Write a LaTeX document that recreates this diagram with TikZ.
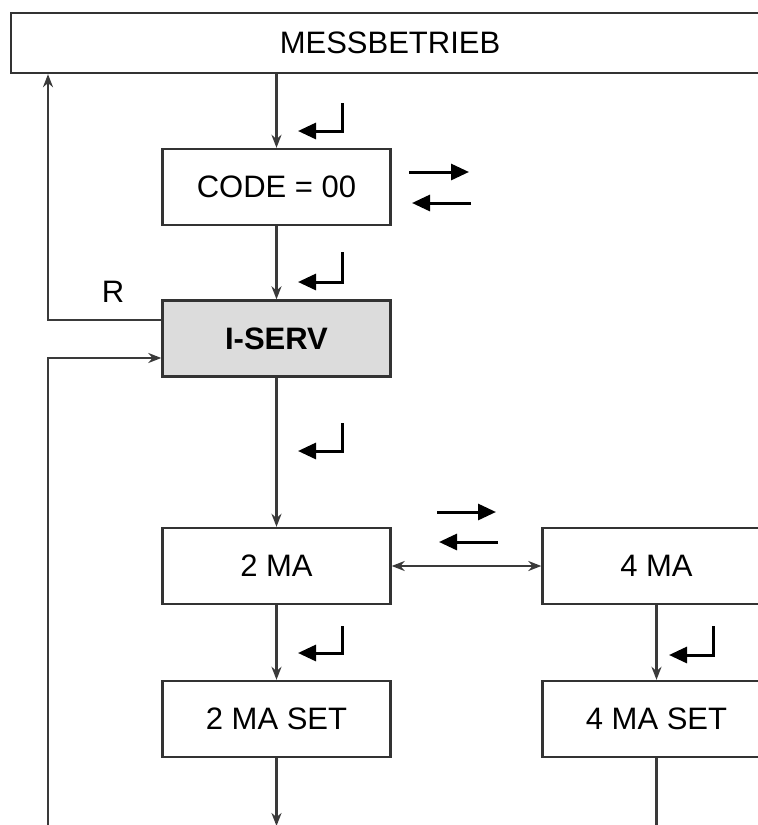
\documentclass[tikz,border=0pt]{standalone}
\usepackage{fontspec}
\setmainfont{Liberation Sans}
\usetikzlibrary{arrows.meta}
\definecolor{boxc}{HTML}{333333}
\definecolor{linec}{HTML}{3A3A3A}
\definecolor{grayfill}{HTML}{DCDCDC}
\begin{document}
\begin{tikzpicture}[x=1pt,y=-1pt,
  box/.style={draw=boxc,line width=2.4pt,minimum width=228pt,minimum height=76pt,inner sep=0pt,font=\fontsize{31}{36}\selectfont},
  conn/.style={draw=linec,line width=2.2pt,-{Stealth[length=13pt,width=10pt]}},
  plainline/.style={draw=linec,line width=2.2pt},
  enter/.style={draw=black,line width=3pt,-{Triangle[length=18pt,width=16pt]}},
  lbl/.style={font=\fontsize{31}{36}\selectfont}
]
\useasboundingbox (0,0) rectangle (758,825);
\clip (0,0) rectangle (758,825);
\fill[white] (0,0) rectangle (758,825);

\node[box,minimum width=758pt,minimum height=60pt] (mess) at (390,43) {MESSBETRIEB};
\node[box] (code) at (276.5,187) {CODE = 00};
\node[box,fill=grayfill,font=\fontsize{31}{36}\selectfont\bfseries] (iserv) at (276.5,338.5) {I-SERV};
\node[box] (ma2) at (276.5,566) {2 MA};
\node[box] (ma4) at (656.5,566) {4 MA};
\node[box] (ma2set) at (276.5,719) {2 MA SET};
\node[box] (ma4set) at (656.5,719) {4 MA SET};
\node[lbl] (rl) at (113,292) {R};

\coordinate (rloop) at (48,320);
\coordinate (b0) at (48,830);
\coordinate (b1) at (276.5,826);
\coordinate (b2) at (656.5,830);

% main flow
\draw[conn] (code.north |- mess.south) -- (code.north);
\draw[conn] (code.south) -- (iserv.north);
\draw[conn] (iserv.south) -- (ma2.north);
\draw[conn] (ma2.south) -- (ma2set.north);
\draw[conn] (ma4.south) -- (ma4set.north);
\draw[conn,{Stealth[length=13pt,width=10pt]}-{Stealth[length=13pt,width=10pt]}] (ma2.east) -- (ma4.west);
\draw[conn] (ma2set.south) -- (b1);
\draw[plainline] (ma4set.south) -- (b2);

% left loops
\draw[conn] ([yshift=18.5pt]iserv.west) -- (rloop) -- (rloop |- mess.south);
\draw[conn] (b0) -- (b0 |- 0,358) -- ([yshift=-19.5pt]iserv.west);

% enter symbols
\draw[enter] (342,103) -- (342,131) -- (298,131);
\draw[enter] (342,252) -- (342,282) -- (298,282);
\draw[enter] (342,423) -- (342,451) -- (298,451);
\draw[enter] (342,626) -- (342,653) -- (298,653);
\draw[enter] (713,626) -- (713,655) -- (669,655);

% arrow pairs
\draw[enter] (409,172) -- (469,172);
\draw[enter] (471,203) -- (412,203);
\draw[enter] (437,512) -- (496,512);
\draw[enter] (498,542) -- (439,542);
\end{tikzpicture}
\end{document}
